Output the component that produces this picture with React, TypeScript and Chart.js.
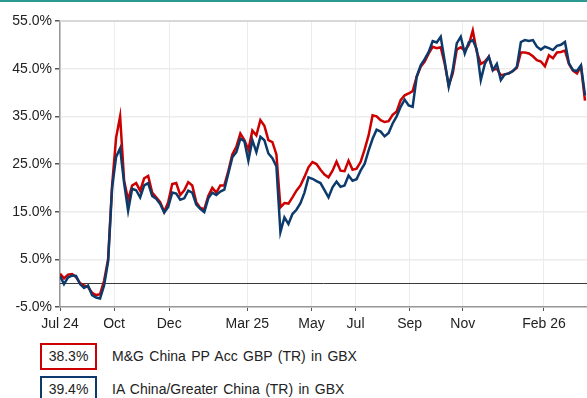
import React, { useEffect, useRef } from "react";
import { Chart, registerables } from "chart.js";

Chart.register(...registerables);

const tickLabels = ["Jul 24", "Oct", "Dec", "Mar 25", "May", "Jul", "Sep", "Nov", "Feb 26"];
const tickPositions = [0, 13.5, 27.25, 46.75, 62.75, 73.75, 87.25, 100.5, 120.75];

const mgValues = [
  2.0, 1.0, 1.8, 1.9, 1.3, 0.0, -0.5, -0.8, -2.0, -2.5,
  -2.3, 0.5, 5.0, 20.5, 30.5, 35.0, 21.5, 17.5, 20.5, 21.0,
  19.4, 22.0, 22.5, 19.0, 18.0, 17.0, 15.0, 17.0, 20.8, 21.0,
  18.5, 19.5, 21.2, 20.5, 17.0, 15.8, 15.5, 18.3, 20.0, 19.0,
  20.5, 20.5, 23.5, 27.0, 28.6, 31.4, 30.0, 28.0, 32.0, 31.0,
  34.2, 33.0, 30.0, 29.6, 27.0, 15.9, 16.8, 16.7, 18.0, 19.4,
  20.5, 22.3, 24.3, 25.4, 25.0, 23.8, 22.8, 22.2, 23.6, 25.5,
  23.6, 23.5, 25.7, 23.8, 24.0, 25.4, 28.0, 31.0, 35.2, 35.0,
  34.2, 33.8, 34.0, 35.3, 36.0, 38.4, 39.4, 39.8, 40.3, 43.3,
  45.4, 46.5, 48.2, 49.6, 49.3, 49.5, 46.0, 41.5, 44.0, 49.0,
  49.5, 48.8, 50.0, 53.0, 48.5, 46.0, 46.5, 47.5, 44.7, 45.0,
  43.6, 43.8, 44.0, 44.5, 45.2, 48.4, 48.4, 48.2, 47.6, 46.8,
  46.5, 45.5, 47.8, 47.2, 48.4, 48.5, 48.8, 46.0, 44.6, 44.0,
  45.5, 38.3,
];

const iaValues = [
  1.5, -0.2, 1.2, 1.6, 1.5, -0.2, -1.0, -0.5, -2.5, -3.0,
  -3.2, -0.5, 4.5, 20.0, 26.5, 28.3, 21.0, 15.2, 19.8, 19.5,
  18.0, 20.5, 21.0, 18.3, 17.7, 16.6, 14.8, 16.0, 19.0, 18.8,
  17.5, 17.8, 19.4, 19.0, 16.5, 15.6, 14.9, 17.8, 19.0, 18.5,
  19.2, 19.6, 23.0, 26.4, 27.5, 30.3, 29.8, 25.7, 30.0, 27.5,
  30.7, 30.0, 27.2, 26.2, 24.5, 10.7, 13.8, 12.4, 14.5, 15.4,
  16.8, 19.0, 22.2, 21.9, 21.4, 21.0, 19.5, 18.0, 20.1, 21.3,
  20.2, 20.5, 22.6, 21.5, 21.8, 23.6, 25.0, 27.8, 30.3, 32.2,
  31.8, 30.8, 31.5, 33.5, 35.0, 37.0, 38.5, 37.3, 37.0, 43.3,
  45.7, 47.0, 48.5, 50.8, 50.5, 51.7, 46.5, 41.2, 44.7, 50.3,
  51.7, 48.2, 50.5, 51.0, 49.0, 42.6, 46.0, 47.5, 44.7, 46.0,
  42.6, 43.8, 44.0, 44.5, 45.4, 50.6, 51.0, 50.8, 51.0, 49.6,
  49.0, 49.6, 49.3, 48.9, 49.8, 50.0, 50.6, 46.1, 44.7, 44.5,
  45.7, 39.4,
];

const seriesNames = ["M&G China PP Acc GBP (TR) in GBX", "IA China/Greater China (TR) in GBX"];
const seriesTotals = ["38.3%", "39.4%"];
const seriesColors = ["#cc0000", "#0b3a6b"];

const FONT = 'Arial, "Liberation Sans", sans-serif';

const frameLinesPlugin = {
  id: "frameLines",
  beforeDatasetsDraw(chart: any) {
    const { ctx, chartArea, scales } = chart;
    const y = Math.round(scales.y.getPixelForValue(0)) + 0.5;
    ctx.save();
    ctx.strokeStyle = "#3a3a3a";
    ctx.lineWidth = 1;
    ctx.beginPath();
    ctx.moveTo(chartArea.left, y);
    ctx.lineTo(chartArea.right, y);
    ctx.stroke();
    ctx.strokeStyle = "#d8d8d8";
    ctx.lineWidth = 2;
    ctx.beginPath();
    ctx.moveTo(chartArea.left, chartArea.top);
    ctx.lineTo(chartArea.right, chartArea.top);
    ctx.stroke();
    ctx.restore();
  },
};

export default function App() {
  const ref = useRef<HTMLCanvasElement | null>(null);

  useEffect(() => {
    if (!ref.current) return;
    const toPts = (arr: number[]) => arr.map((v, i) => ({ x: i, y: v }));
    const chart = new Chart(ref.current, {
      type: "line",
      data: {
        datasets: [
          {
            label: seriesNames[0],
            data: toPts(mgValues),
            borderColor: seriesColors[0],
            borderWidth: 2.5,
            pointRadius: 0,
            tension: 0,
            order: 2,
          },
          {
            label: seriesNames[1],
            data: toPts(iaValues),
            borderColor: seriesColors[1],
            borderWidth: 2.5,
            pointRadius: 0,
            tension: 0,
            order: 1,
          },
        ],
      },
      options: {
        responsive: false,
        animation: false,
        layout: { padding: { top: 21, right: 0, left: 0, bottom: 0 } },
        plugins: { legend: { display: false }, tooltip: { enabled: false } },
        scales: {
          x: {
            type: "linear",
            min: 0,
            max: 131.5,
            afterBuildTicks: (scale: any) => {
              scale.ticks = tickPositions.map((v) => ({ value: v }));
            },
            afterFit: (scale: any) => {
              scale.height = 28;
            },
            grid: { color: "#ececec", lineWidth: 1, tickLength: 4, tickColor: "#555" },
            border: { color: "#999", width: 1.5 },
            ticks: {
              autoSkip: false,
              maxRotation: 0,
              padding: 5,
              color: "#222",
              font: { family: FONT, size: 14 },
              callback: (_v: any, i: number) => tickLabels[i],
            },
          },
          y: {
            min: -5,
            max: 55,
            afterFit: (scale: any) => {
              scale.width = 60;
            },
            grid: { color: "#ececec", lineWidth: 1.5, tickLength: 5, tickColor: "#555" },
            border: { color: "#999", width: 1.5 },
            ticks: {
              stepSize: 10,
              padding: 3,
              color: "#222",
              font: { family: FONT, size: 14 },
              callback: (v: any) => Number(v).toFixed(1) + "%",
            },
          },
        },
      },
      plugins: [frameLinesPlugin],
    } as any);
    return () => chart.destroy();
  }, []);

  const legendRow = (i: number, top: number) => (
    <div key={i} style={{ position: "absolute", left: 0, top, width: 587, height: 28 }}>
      <div
        style={{
          position: "absolute",
          left: 40,
          top: 0,
          width: 53,
          height: 23,
          border: `2px solid ${seriesColors[i]}`,
          textAlign: "center",
          lineHeight: "23px",
          fontSize: 14,
          color: "#222",
          fontFamily: FONT,
        }}
      >
        {seriesTotals[i]}
      </div>
      <div
        style={{
          position: "absolute",
          left: 112,
          top: 0,
          lineHeight: "27px",
          fontSize: 14,
          color: "#222",
          fontFamily: FONT,
          wordSpacing: 1.5,
          whiteSpace: "nowrap",
        }}
      >
        {seriesNames[i]}
      </div>
    </div>
  );

  return (
    <div style={{ position: "fixed", left: 0, top: 0, width: 587, height: 398, background: "#fff", overflow: "hidden" }}>
      <div style={{ position: "absolute", left: 0, top: 0, width: 587, height: 2, background: "#2b9a92" }} />
      <canvas ref={ref} width={587} height={335} style={{ position: "absolute", left: 0, top: 0, width: 587, height: 335 }} />
      {legendRow(0, 343)}
      {legendRow(1, 376)}
    </div>
  );
}
